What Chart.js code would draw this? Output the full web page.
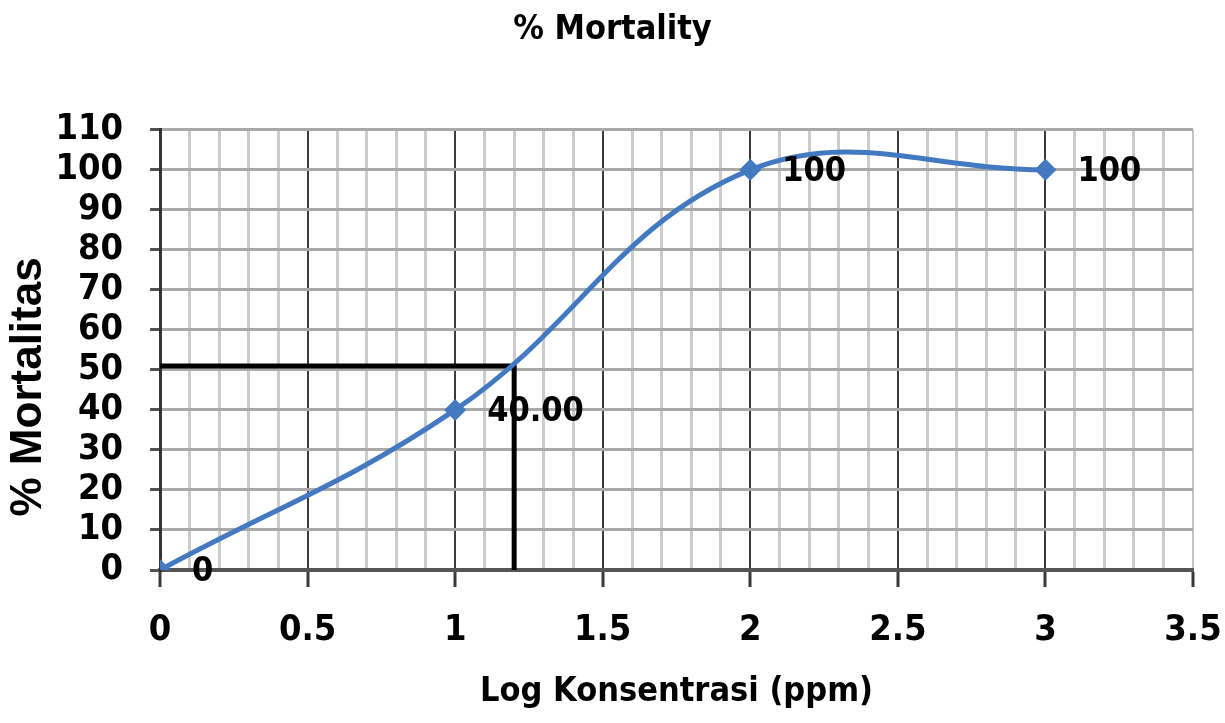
<!DOCTYPE html>
<html>
<head>
<meta charset="utf-8">
<title>% Mortality</title>
<script src="https://cdn.jsdelivr.net/npm/chart.js@4.4.1/dist/chart.umd.min.js"></script>
<style>
  body { margin: 0; background: #fff; }
  #caixa { width: 1225px; height: 723px; }
</style>
</head>
<body>
<div id="caixa"><canvas id="Canvas"></canvas></div>
<script>
// valores
let logKonsentrasi = [0, 1, 2, 3];
let mortalitas = [0, 40, 100, 100];
let rotulos = ["0", "40.00", "100", "100"];

// linha preta do LC50
let garisX = [0, 1.2, 1.2];
let garisY = [51, 51, 0];

let xMin = 0, xMax = 3.5, xStep = 0.1;
let yMin = 0, yMax = 110, yStep = 10;

let fonte = "'Liberation Sans Narrow', 'DejaVu Sans Condensed', 'Roboto Condensed', sans-serif";
let azul = "#4279c0";

function pontos(xs, ys) {
  return xs.map(function (x, i) { return { x: x, y: ys[i] }; });
}

function ehMaior(v) {
  return Math.round(v * 10) % 5 === 0;
}

let pluginTextos = {
  id: "textos",
  afterDatasetsDraw(chart) {
    let ctx = chart.ctx;
    let meta = chart.getDatasetMeta(0);
    ctx.save();
    ctx.font = "bold 34px " + fonte;
    ctx.fillStyle = "#000";
    ctx.textAlign = "left";
    ctx.textBaseline = "middle";
    meta.data.forEach(function (p, i) {
      ctx.fillText(rotulos[i], p.x + 32, p.y + 2);
    });

    // titulo do eixo y
    let area = chart.chartArea;
    ctx.translate(29, (area.top + area.bottom) / 2 + 37);
    ctx.rotate(-Math.PI / 2);
    ctx.textAlign = "center";
    ctx.font = "bold 44px 'Liberation Sans', Arial, sans-serif";
    ctx.fillText("% Mortalitas", 0, 0);
    ctx.restore();
  }
};

function criarGrafico() {
  let ctx = document.getElementById("Canvas").getContext("2d");

  new Chart(ctx, {
    type: "line",
    data: {
      datasets: [
        {
          label: "% Mortalitas",
          data: pontos(logKonsentrasi, mortalitas),
          borderColor: azul,
          backgroundColor: azul,
          borderWidth: 5,
          tension: 0.4,
          pointStyle: "rectRot",
          pointRadius: 11,
          pointBorderWidth: 0,
          order: 0
        },
        {
          label: "LC50",
          data: pontos(garisX, garisY),
          borderColor: "#000",
          borderWidth: 5,
          tension: 0,
          pointRadius: 0,
          borderCapStyle: "square",
          order: 1
        }
      ]
    },
    options: {
      responsive: true,
      maintainAspectRatio: false,
      animation: false,
      layout: { padding: 0 },
      plugins: {
        legend: { display: false },
        tooltip: { enabled: false },
        title: {
          display: true,
          text: "% Mortality",
          color: "#000",
          font: { family: fonte, size: 34, weight: "bold" },
          padding: { top: 10, bottom: 79 }
        }
      },
      scales: {
        x: {
          type: "linear",
          min: xMin,
          max: xMax,
          afterFit: function (s) {
            s.height = 153;
            s.paddingRight = 32;
            s.paddingLeft = 0;
          },
          ticks: {
            stepSize: xStep,
            autoSkip: false,
            maxRotation: 0,
            padding: 22,
            color: "#000",
            font: { family: fonte, size: 36, weight: "bold" },
            callback: function (v) {
              return ehMaior(v) ? String(Math.round(v * 10) / 10) : "";
            }
          },
          grid: {
            color: function (c) {
              let v = c.tick ? c.tick.value : 0;
              if (Math.abs(v - xMax) < 0.01) return "#c4c4c4";
              return ehMaior(v) ? "#3a3a3a" : "#cccccc";
            },
            lineWidth: function (c) {
              let v = c.tick ? c.tick.value : 0;
              return ehMaior(v) ? 2 : 3;
            },
            tickLength: 17,
            tickWidth: 3,
            tickColor: function (c) {
              let v = c.tick ? c.tick.value : 0;
              return ehMaior(v) ? "#3a3a3a" : "rgba(0,0,0,0)";
            }
          },
          border: { color: "#555", width: 4 },
          title: {
            display: true,
            text: "Log Konsentrasi (ppm)",
            color: "#000",
            font: { family: fonte, size: 34, weight: "bold" },
            padding: { top: 0, bottom: 10 }
          }
        },
        y: {
          min: yMin,
          max: yMax,
          afterFit: function (s) { s.width = 160; },
          ticks: {
            stepSize: yStep,
            autoSkip: false,
            padding: 27,
            color: "#000",
            font: { family: fonte, size: 36, weight: "bold" }
          },
          grid: {
            color: "#a9a9a9",
            lineWidth: 3,
            tickLength: 10,
            tickWidth: 3,
            tickColor: "#505050"
          },
          border: { color: "#333", width: 3 }
        }
      }
    },
    plugins: [pluginTextos]
  });
}

criarGrafico();
</script>
</body>
</html>
